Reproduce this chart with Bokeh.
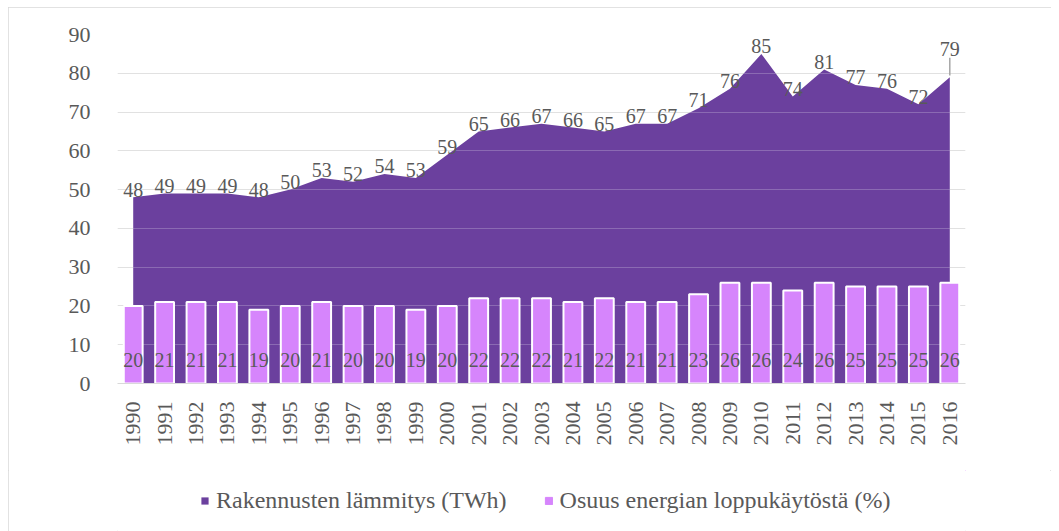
from math import pi
from bokeh.plotting import figure
from bokeh.layouts import column
from bokeh.models import FactorRange, Range1d, FixedTicker, Legend, LegendItem, ColumnDataSource
from bokeh.core.properties import value
from bokeh.embed import file_html
from bokeh.resources import INLINE

years = [str(y) for y in range(1990, 2017)]
heating_twh = [48, 49, 49, 49, 48, 50, 53, 52, 54, 53, 59, 65, 66, 67, 66, 65, 67, 67,
               71, 76, 85, 74, 81, 77, 76, 72, 79]
share_pct = [20, 21, 21, 21, 19, 20, 21, 20, 20, 19, 20, 22, 22, 22, 21, 22, 21, 21,
             23, 26, 26, 24, 26, 25, 25, 25, 26]
y_ticks = [0, 10, 20, 30, 40, 50, 60, 70, 80, 90]
series_names = ["Rakennusten lämmitys (TWh)", "Osuus energian loppukäytöstä (%)"]

AREA = "#6b409e"
BAR = "#d685fc"
TXT = "#595959"
FONT = "Liberation Serif"
W = 1043

p = figure(width=W, height=463, x_range=FactorRange(*years, range_padding=0),
           y_range=Range1d(0, 90), output_backend="svg", toolbar_location=None,
           min_border_left=109, min_border_right=86, min_border_top=27, min_border_bottom=87)
p.outline_line_color = None

p.xgrid.grid_line_color = None
p.ygrid.grid_line_color = "#d9d9d9"
p.ygrid.ticker = FixedTicker(ticks=y_ticks)
p.yaxis.ticker = FixedTicker(ticks=y_ticks)

p.yaxis.axis_line_color = None
p.yaxis.major_tick_line_color = None
p.yaxis.minor_tick_line_color = None
p.yaxis.major_label_standoff = 21
p.xaxis.axis_line_color = "#d9d9d9"
p.xaxis.major_tick_line_color = None
p.xaxis.major_label_orientation = pi / 2
p.xaxis.major_label_standoff = 12
for ax in (p.xaxis, p.yaxis):
    ax.major_label_text_font = FONT
    ax.major_label_text_font_size = "22px"
    ax.major_label_text_color = TXT

src = ColumnDataSource(dict(year=years, heat=heating_twh, share=share_pct,
                            heat_lbl=[str(v) for v in heating_twh],
                            share_lbl=[str(v) for v in share_pct],
                            heat_lbl_y=[v + 2 for v in heating_twh[:-1]] + [heating_twh[-1] + 7.2],
                            share_lbl_y=[6] * len(share_pct)))

p.varea(x="year", y1=0, y2="heat", source=src, fill_color=AREA)
# lighter gridlines over the area
p.hspan(y=y_ticks[1:], line_color="white", line_alpha=0.22, line_width=1)
p.vbar(x="year", top="share", width=0.6, source=src, fill_color=BAR,
       line_color="white", line_width=2)

p.text(x="year", y="heat_lbl_y", text="heat_lbl", source=src, text_align="center",
       text_baseline="alphabetic", text_font=value(FONT), text_font_size="20px", text_color=TXT)
p.text(x="year", y="share_lbl_y", text="share_lbl", source=src, text_align="center",
       text_baseline="middle", text_font=value(FONT), text_font_size="20px", text_color=TXT)
# leader line for last label
p.segment(x0=[years[-1]], y0=[heating_twh[-1] + 0.4], x1=[years[-1]], y1=[heating_twh[-1] + 5],
          line_color="#a6a6a6", line_width=1.5)

# legend strip
lg = figure(width=W, height=61, x_range=Range1d(0, 1), y_range=Range1d(0, 1),
            output_backend="svg", toolbar_location=None,
            min_border_left=109, min_border_right=86, min_border_top=0, min_border_bottom=0)
lg.axis.visible = False
lg.grid.grid_line_color = None
lg.outline_line_color = None
# swatch renderers kept outside the visible range; used only for legend glyphs
r_area = lg.varea(x=[5, 6], y1=[5, 5], y2=[6, 6], fill_color=AREA)
r_bar = lg.vbar(x=[5], top=[6], bottom=[5], width=0.5, fill_color=BAR, line_color=BAR)
legend = Legend(items=[LegendItem(label=series_names[0], renderers=[r_area]),
                       LegendItem(label=series_names[1], renderers=[r_bar])],
                orientation="horizontal", location=(83, 17),
                label_text_font=FONT, label_text_font_size="24px", label_text_color=TXT,
                label_height=24, glyph_width=9, glyph_height=9, label_standoff=7, spacing=37,
                padding=0, margin=0, border_line_color=None, background_fill_alpha=0)
lg.add_layout(legend, "center")

layout = column(p, lg, spacing=0, margin=(7, 0, 0, 8))
layout.styles = {"outline": "1px solid #d9d9d9", "outline-offset": "-1px"}

open("out.html", "w").write(file_html(layout, INLINE))
